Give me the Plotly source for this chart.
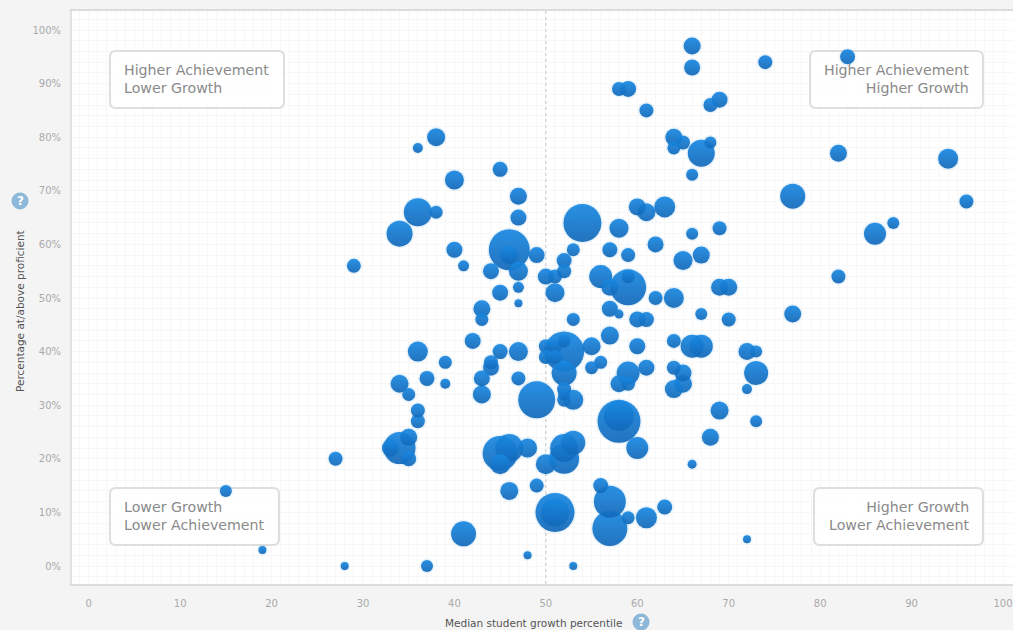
import numpy as np
import plotly.graph_objects as go

W, H = 1013, 630
L, R, T, B = 72, 1013, 11, 584
X0 = 88.7
XS = 9.143

growth = [66,66,74,83,58,59,61,68,69,64,65,64,68,67,66,82,94,77,96,38,36,40,45,47,47,36,38,34,54,58,60,61,63,62,66,69,88,86,82,29,
          40,41,46,47,44,49,47,47,45,50,51,51,52,53,52,57,59,65,67,56,59,57,62,64,69,70,57,58,60,61,53,67,70,77,43,43,42,36,45,47,
          44,44,39,43,37,39,34,35,47,43,36,36,49,52,52,50,51,52,50,51,55,55,56,57,60,59,58,59,61,64,66,67,64,65,65,64,52,52,53,52,
          58,58,60,53,52,52,50,48,45,46,45,66,73,72,73,72,69,73,68,35,34,35,33,27,15,46,49,51,51,56,57,57,59,61,63,41,19,28,37,48,53,72,46,59]
proficient = [97,93,94,95,89,89,85,86,87,80,79,78,79,77,73,77,76,69,68,80,78,72,74,69,65,66,66,62,64,63,67,66,67,60,62,63,64,62,54,56,
              59,56,59,55,55,58,52,49,51,54,54,51,57,59,55,59,58,57,58,54,52,52,50,50,52,52,48,47,46,46,46,47,46,47,48,46,42,40,40,40,
              38,37,38,35,35,34,34,32,35,32,29,27,31,40,36,41,41,42,39,39,41,37,38,43,41,36,34,34,37,42,41,41,37,36,34,33,33,32,31,31,
              27,28,22,23,22,20,19,22,21,22,19,19,40,40,36,33,29,27,24,24,22,20,22,20,14,14,15,10,10,15,12,7,9,9,11,6,3,0,0,2,0,5,58,54]
diameter = [17,16,14,15,14,16,14,14,16,17,14,13,12,27,12,17,20,25,14,18,10,19,15,17,16,28,13,26,38,19,17,18,21,16,12,14,12,22,14,14,
            16,11,41,19,16,16,11,8,16,16,14,19,15,13,14,15,14,19,17,23,36,17,14,20,17,17,16,9,16,15,13,12,14,17,17,13,16,20,15,19,
            14,16,13,16,15,10,18,13,14,18,14,14,37,40,25,14,14,13,14,14,18,13,13,18,16,23,17,14,16,14,23,23,14,17,18,18,14,12,20,14,
            43,30,22,24,28,30,20,19,35,28,20,9,12,17,24,10,18,12,17,17,32,15,17,14,12,18,14,39,28,15,32,35,13,21,15,25,8,8,12,8,8,8,18,13]
x_ticks = list(range(0, 101, 10))
y_ticks = list(range(0, 101, 10))
y_tick_labels = [f"{v}%" for v in y_ticks]

order = np.argsort(-np.array(diameter))
gx = np.array(growth)[order]
py = np.array(proficient)[order]
ds = np.array(diameter)[order]

fig = go.Figure()

fig.add_trace(go.Scatter(x=gx, y=py, mode="markers", hoverinfo="skip", showlegend=False,
    marker=dict(size=ds + 3, color="rgba(90,170,225,0.20)", line=dict(width=0))))
fig.add_trace(go.Scatter(x=gx, y=py, mode="markers", showlegend=False,
    marker=dict(size=ds, sizemode="diameter", color="#1888e2", opacity=0.92,
                gradient=dict(type="vertical", color="#1268b8"), line=dict(width=0))))

tick_font = dict(family="DejaVu Sans", size=10, color="#aaaaaa")
fig.update_xaxes(range=[(L - X0) / XS, (R - X0) / XS], tickvals=x_ticks, showgrid=False, zeroline=False,
                 ticks="outside", ticklen=9, tickcolor="rgba(0,0,0,0)", tickfont=tick_font,
                 showline=True, linecolor="#dcdcdc", linewidth=2, mirror=True,
                 minor=dict(dtick=1, showgrid=True, gridcolor="#f7f7f7", gridwidth=1, ticks=""))
fig.update_yaxes(range=[(566 - B) / 5.36, (566 - T) / 5.36], tickvals=y_ticks, ticktext=y_tick_labels,
                 showgrid=False, zeroline=False,
                 ticks="outside", ticklen=7, tickcolor="rgba(0,0,0,0)", tickfont=tick_font,
                 showline=True, linecolor="#e2e2e2", linewidth=2, mirror=False,
                 minor=dict(dtick=2, showgrid=True, gridcolor="#f7f7f7", gridwidth=1, ticks=""))


def px(v):
    return v / W


def py_(v):
    return 1 - v / H


def dx(v):
    return (v - X0) / XS


def dy(v):
    return (566 - v) / 5.36


def round_box(x0, y0, x1, y1, r=6):
    a, b, c, d = dx(x0), dx(x1), dy(y0), dy(y1)
    rx, ry = r / XS, r / 5.36
    path = (f"M{a + rx},{c} L{b - rx},{c} Q{b},{c} {b},{c - ry} L{b},{d + ry} Q{b},{d} {b - rx},{d} "
            f"L{a + rx},{d} Q{a},{d} {a},{d + ry} L{a},{c - ry} Q{a},{c} {a + rx},{c} Z")
    return dict(type="path", xref="x", yref="y", path=path, line=dict(color="#dedede", width=2),
                fillcolor="rgba(255,255,255,0.85)", layer="between")


boxes = [(110, 51, 284, 108, "Higher Achievement<br>Lower Growth", "left", 122),
         (810, 51, 983, 108, "Higher Achievement<br>Higher Growth", "right", 971),
         (110, 488, 279, 545, "Lower Growth<br>Lower Achievement", "left", 122),
         (814, 488, 983, 545, "Higher Growth<br>Lower Achievement", "right", 972)]

shapes, annos = [], []
for x0, y0, x1, y1, txt, al, tx in boxes:
    shapes.append(round_box(x0, y0, x1, y1))
    annos.append(dict(xref="paper", yref="paper", x=px(tx), y=py_((y0 + y1) / 2 - 0.5), text=txt, showarrow=False,
                      xanchor=al, yanchor="middle", align=al,
                      font=dict(family="DejaVu Sans", size=14.2, color="#8a8a8a")))

shapes.append(dict(type="line", xref="x", yref="y", x0=50, x1=50, y0=dy(B), y1=dy(T),
                   line=dict(color="#c4c4c4", width=1, dash="dot"), layer="between"))

for cx, cy in [(20, 201), (641, 622)]:
    rad = 8.5
    shapes.append(dict(type="circle", xref="paper", yref="paper", x0=px(cx - rad), x1=px(cx + rad),
                       y0=py_(cy + rad), y1=py_(cy - rad), fillcolor="#8db8d8", line=dict(width=0)))
    annos.append(dict(xref="paper", yref="paper", x=px(cx), y=py_(cy), text="<b>?</b>", showarrow=False,
                      xanchor="center", yanchor="middle", font=dict(family="DejaVu Sans", size=12, color="#ffffff")))

title_font = dict(family="DejaVu Sans", size=10.5, color="#555555")
annos.append(dict(xref="paper", yref="paper", x=px(533), y=py_(623), text="Median student growth percentile",
                  showarrow=False, xanchor="center", yanchor="middle", font=title_font))
annos.append(dict(xref="paper", yref="paper", x=px(20), y=py_(311), text="Percentage at/above proficient",
                  showarrow=False, xanchor="center", yanchor="middle", textangle=-90, font=title_font))

fig.update_layout(width=W, height=H, margin=dict(l=0, r=0, t=0, b=0),
                  paper_bgcolor="#f4f4f4", plot_bgcolor="#ffffff",
                  shapes=shapes, annotations=annos, showlegend=False)
fig.update_xaxes(domain=[L / W, R / W], automargin=False)
fig.update_yaxes(domain=[1 - B / H, 1 - T / H], automargin=False)

fig.write_html("out.html", config=dict(displayModeBar=False),
               post_script="document.body.style.margin='0';document.documentElement.style.overflow='hidden';")
